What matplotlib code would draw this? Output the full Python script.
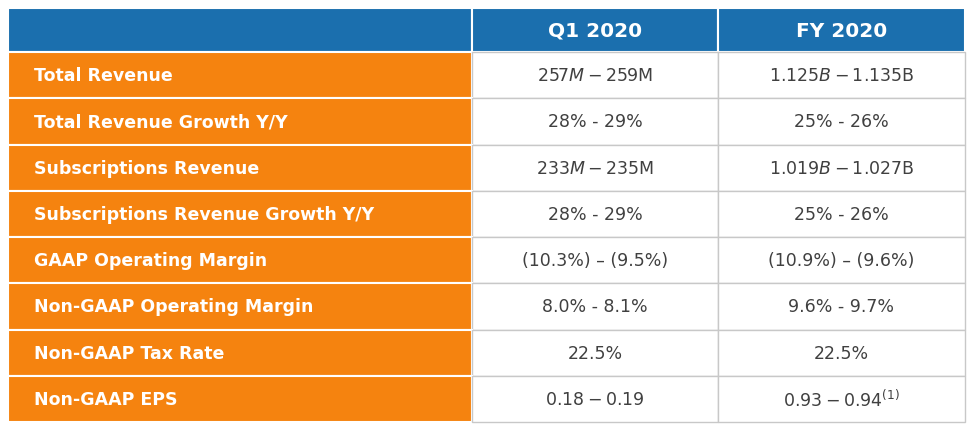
import matplotlib.pyplot as plt
from matplotlib.patches import Rectangle

# table content
headers = ["Q1 2020", "FY 2020"]
metrics = ["Total Revenue", "Total Revenue Growth Y/Y", "Subscriptions Revenue",
           "Subscriptions Revenue Growth Y/Y", "GAAP Operating Margin",
           "Non-GAAP Operating Margin", "Non-GAAP Tax Rate", "Non-GAAP EPS"]
q1_values = ["$257M - $259M", "28% - 29%", "$233M - $235M", "28% - 29%",
             "(10.3%) \u2013 (9.5%)", "8.0% - 8.1%", "22.5%", "$0.18 - $0.19"]
fy_values = ["$1.125B - $1.135B", "25% - 26%", "$1.019B - $1.027B", "25% - 26%",
             "(10.9%) \u2013 (9.6%)", "9.6% - 9.7%", "22.5%", "$0.93 - $0.94$^{(1)}$"]

blue = "#1b6fae"
orange = "#f5830f"
text_grey = "#404040"

W, H = 973, 428
fig = plt.figure(figsize=(W / 100, H / 100), dpi=100)
ax = fig.add_axes([0, 0, 1, 1])
ax.set_xlim(0, W)
ax.set_ylim(H, 0)
ax.axis("off")

cols = [8, 472, 718, 965]
top, head_h, bottom = 8, 44, 422
row_h = (bottom - top - head_h) / len(metrics)

# header row
for i in range(3):
    ax.add_patch(Rectangle((cols[i], top), cols[i + 1] - cols[i], head_h,
                           facecolor=blue, edgecolor="white", lw=1.5))
for i, h in enumerate(headers):
    ax.text((cols[i + 1] + cols[i + 2]) / 2, top + head_h / 2 + 1, h, color="white",
            fontsize=14.5, fontweight="bold", ha="center", va="center")

for r, (m, q, f) in enumerate(zip(metrics, q1_values, fy_values)):
    y = top + head_h + r * row_h
    ax.add_patch(Rectangle((cols[0], y), cols[1] - cols[0], row_h,
                           facecolor=orange, edgecolor="white", lw=1.5))
    for i in (1, 2):
        ax.add_patch(Rectangle((cols[i], y), cols[i + 1] - cols[i], row_h,
                               facecolor="white", edgecolor="#c8c8c8", lw=1))
    cy = y + row_h / 2 + 1
    ax.text(cols[0] + 26, cy, m, color="white", fontsize=12.5,
            fontweight="bold", ha="left", va="center")
    ax.text((cols[1] + cols[2]) / 2, cy, q, color=text_grey, fontsize=12.5,
            ha="center", va="center")
    ax.text((cols[2] + cols[3]) / 2, cy, f, color=text_grey, fontsize=12.5,
            ha="center", va="center")

fig.savefig("out.png", dpi=100, facecolor="white")
